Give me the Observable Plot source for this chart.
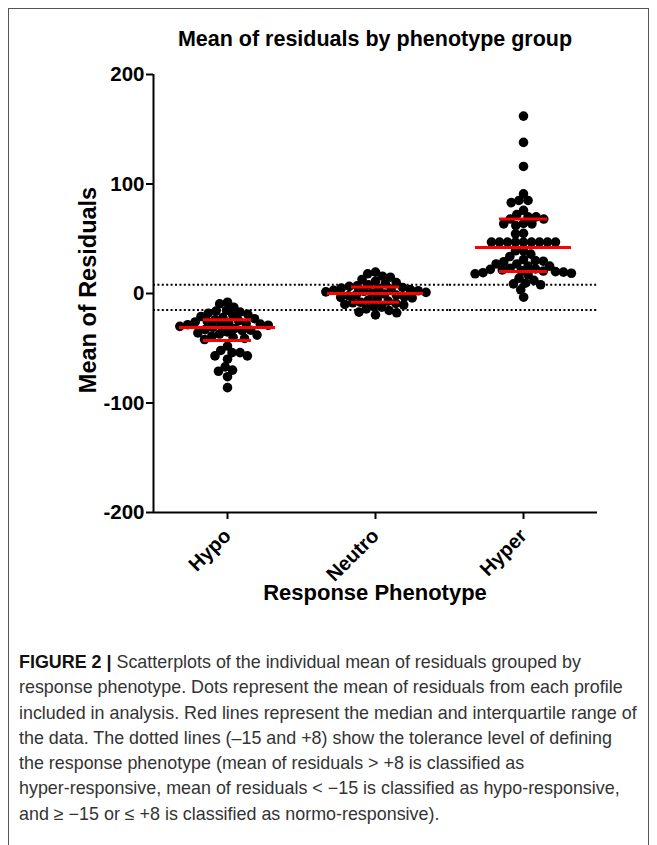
<!DOCTYPE html>
<html>
<head>
<meta charset="utf-8">
<script src="https://cdn.jsdelivr.net/npm/d3@7"></script>
<script src="https://cdn.jsdelivr.net/npm/@observablehq/plot@0.6"></script>
<style>
  html, body { margin: 0; padding: 0; background: #fff; }
  body { width: 657px; height: 845px; position: relative; overflow: hidden; font-family: "Liberation Sans", Arial, sans-serif; }
  #frame { position: absolute; left: 8px; top: 8px; width: 641px; height: 845px; border: 1px solid #555; box-sizing: border-box; }
  #title { position: absolute; left: 153px; width: 444px; top: 27px; text-align: center; font-weight: bold; font-size: 21.5px; color: #000; white-space: nowrap; }
  #chart { position: absolute; left: 0; top: 55px; }
  #ylab { position: absolute; left: 88px; top: 290px; transform: translate(-50%, -50%) rotate(-90deg); white-space: nowrap; font-weight: bold; font-size: 23.5px; color: #000; }
  #xlab { position: absolute; left: 153px; width: 444px; top: 580px; text-align: center; font-weight: bold; font-size: 22px; color: #000; }
  #caption { position: absolute; left: 19px; top: 650px; font-size: 17.9px; line-height: 25.3px; color: #333; white-space: nowrap; }
  #caption b { color: #111; }
</style>
</head>
<body>
<div id="frame"></div>
<div id="title">Mean of residuals by phenotype group</div>
<div id="chart"></div>
<div id="ylab">Mean of Residuals</div>
<div id="xlab">Response Phenotype</div>
<div id="caption"><b>FIGURE 2 |</b> Scatterplots of the individual mean of residuals grouped by<br>response phenotype. Dots represent the mean of residuals from each profile<br>included in analysis. Red lines represent the median and interquartile range of<br>the data. The dotted lines (–15 and +8) show the tolerance level of defining<br>the response phenotype (mean of residuals &gt; +8 is classified as<br>hyper-responsive, mean of residuals &lt; −15 is classified as hypo-responsive,<br>and ≥ −15 or ≤ +8 is classified as normo-responsive).</div>
<script>
const groups = ["Hypo", "Neutro", "Hyper"];

const hypoValues = [-8, -9.5, -12.5, -15.5,
  -16, -17, -18, -19, -20, -21, -22, -23,
  -24, -25, -25.5, -26, -27, -27.5, -28, -28.5, -29, -29.5, -30, -31,
  -32, -33, -33.5, -34, -35, -36, -37, -38, -39, -40, -41, -42,
  -48, -52, -54, -54, -57, -57, -60, -67, -70, -71, -76, -86];

const neutroValues = [19.5, 18, 15.8, 14.9, 12.8, 11.2,
  10, 9, 8, 7, 6.5,
  5.5, 5, 4.5, 4, 3.5, 3, 2.5, 2, 1.5, 1, 0.5,
  -0.5, -1, -1.5, -2, -3, -3.5, -4, -5, -6, -7, -8,
  -8.5, -9, -10, -10.5, -11.6, -12.5, -14, -15.5, -17, -17.6, -19.5];

const hyperValues = [162, 138, 116, 91, 85, 85, 83, 76, 72, 70, 70, 68, 68,
  64, 63.6, 63.6, 62, 55, 54.5, 47, 47, 47, 47, 47, 47, 47, 47, 47,
  39, 39, 36, 33.8, 31, 30, 29.5, 29, 27, 27, 25, 25,
  23, 22.5, 22, 21.5, 21, 20.5, 20, 19.5, 19, 18.5, 18, 17,
  14, 12, 9.4, 8.8, 8, 3.4, -3.4];

const medians = [-31, 0, 42];
const lowerQuartiles = [-43, -8, 20];
const upperQuartiles = [-24, 6, 68];
const toleranceLevels = [8, -15];
const yTicks = [-200, -100, 0, 100, 200];
const yDomain = [-200, 200];

const points = [
  ...hypoValues.map(v => ({group: "Hypo", value: v})),
  ...neutroValues.map(v => ({group: "Neutro", value: v})),
  ...hyperValues.map(v => ({group: "Hyper", value: v}))
];
const stats = groups.map((g, i) => ({group: g, median: medians[i], q1: lowerQuartiles[i], q3: upperQuartiles[i]}));
const leftEdge = [{group: groups[0], pos: 0}];

const chart = Plot.plot({
  width: 657,
  height: 530,
  marginLeft: 153,
  marginRight: 60,
  marginTop: 19,
  marginBottom: 73,
  style: {fontFamily: "'Liberation Sans', Arial, sans-serif", fontWeight: "bold", color: "#000", background: "transparent", overflow: "visible"},
  fx: {domain: groups, padding: 0, label: null},
  x: {domain: [0, 1], axis: null},
  y: {domain: yDomain, label: null},
  marks: [
    Plot.ruleY(toleranceLevels, {stroke: "#000", strokeWidth: 2, strokeDasharray: "2 2.4"}),
    Plot.dot(points, Plot.dodgeX({anchor: "middle", padding: -1.6}, {fx: "group", y: "value", r: 4.8, fill: "#000", stroke: null})),
    Plot.tickY(stats, {fx: "group", y: "median", stroke: "#ff0000", strokeWidth: 3, insetLeft: 26, insetRight: 26}),
    Plot.tickY(stats, {fx: "group", y: "q1", stroke: "#ff0000", strokeWidth: 3, insetLeft: 50, insetRight: 50}),
    Plot.tickY(stats, {fx: "group", y: "q3", stroke: "#ff0000", strokeWidth: 3, insetLeft: 50, insetRight: 50}),
    Plot.ruleX(stats, {fx: "group", y1: "q1", y2: "q3", stroke: "#ff0000", strokeWidth: 3}),
    Plot.ruleY([yDomain[0]], {stroke: "#000", strokeWidth: 2}),
    Plot.ruleX(leftEdge, {fx: "group", x: "pos", y1: () => yDomain[0], y2: () => yDomain[1], stroke: "#000", strokeWidth: 2}),
    Plot.axisY({ticks: yTicks, tickFormat: d => String(d), tickSize: 7, tickPadding: 2, fontSize: 20.5, fontWeight: "bold", strokeWidth: 2, label: null}),
    Plot.axisFx({anchor: "bottom", tickRotate: -45, tickSize: 7, tickPadding: 13, fontSize: 20, fontWeight: "bold", strokeWidth: 2, label: null})
  ]
});
document.getElementById("chart").appendChild(chart);
</script>
</body>
</html>
